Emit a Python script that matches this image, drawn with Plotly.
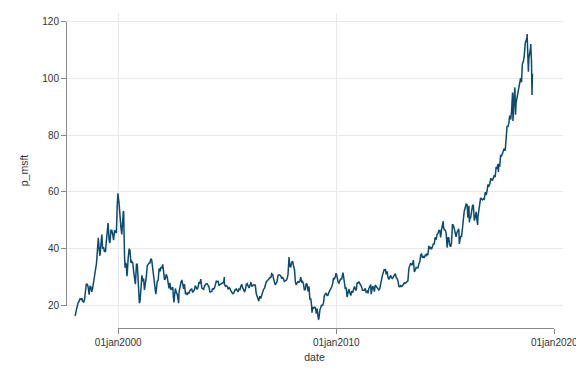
import pandas as pd
import plotly.graph_objects as go

# ---- data: MSFT closing price, semi-monthly readings (1st and 15th of each month) ----
p_1998 = [16.4, 16.8, 18.7, 20.0, 21.1, 21.3, 22.5, 22.0, 22.6, 21.5, 21.2, 22.0,
          27.0, 27.5, 27.5, 26.5, 23.8, 26.7, 26.5, 24.8, 26.5, 28.7, 30.5, 31.7]
p_1999 = [34.7, 38.7, 43.8, 40.0, 37.5, 41.0, 45.0, 40.0, 40.5, 39.0, 39.0, 42.5,
          45.0, 49.0, 43.0, 42.0, 46.5, 46.5, 45.0, 43.0, 46.5, 46.0, 45.5, 55.0]
p_2000 = [58.4, 56.0, 49.0, 47.5, 45.0, 48.5, 53.0, 37.5, 35.0, 34.5, 31.5, 36.5,
          40.0, 39.5, 35.0, 35.5, 35.0, 32.0, 30.0, 27.5, 34.5, 34.5, 28.5, 25.0]
p_2001 = [21.7, 26.5, 30.6, 28.5, 29.5, 25.5, 27.3, 30.0, 34.0, 34.5, 35.0, 35.0,
          36.5, 36.0, 33.0, 31.0, 28.5, 26.3, 25.6, 28.5, 29.0, 33.0, 32.0, 33.5]
p_2002 = [33.1, 34.5, 31.5, 29.0, 29.5, 31.0, 30.0, 28.5, 26.0, 28.0, 25.5, 26.0,
          26.5, 22.5, 23.5, 26.0, 24.5, 24.0, 22.0, 24.5, 27.0, 28.0, 29.0, 27.0]
p_2003 = [25.9, 27.5, 24.0, 24.5, 23.7, 24.5, 24.4, 25.2, 25.6, 25.9, 24.6, 24.9,
          25.6, 27.0, 26.4, 25.7, 26.5, 28.3, 27.8, 29.3, 26.1, 25.8, 25.7, 26.8]
p_2004 = [27.4, 27.7, 27.6, 26.8, 26.5, 24.8, 25.0, 24.9, 26.1, 25.8, 26.2, 27.4,
          28.6, 28.4, 28.5, 27.1, 27.3, 27.4, 27.7, 28.0, 28.2, 27.4, 26.8, 27.0]
p_2005 = [26.7, 25.7, 26.3, 26.0, 25.2, 24.8, 24.2, 24.3, 25.3, 25.6, 25.8, 25.3,
          24.8, 25.8, 25.6, 26.8, 27.4, 26.1, 25.7, 24.7, 25.7, 27.4, 27.7, 26.9]
p_2006 = [26.2, 27.0, 28.2, 26.9, 26.9, 27.3, 27.2, 27.2, 24.2, 23.0, 22.6, 22.0,
          23.3, 22.5, 24.0, 24.7, 25.7, 26.0, 27.4, 28.3, 28.7, 29.3, 29.4, 29.9]
p_2007 = [29.9, 31.2, 30.9, 29.4, 28.1, 27.3, 27.9, 28.4, 30.6, 30.8, 30.7, 30.5,
          29.5, 30.0, 29.3, 28.5, 28.7, 28.9, 29.5, 30.9, 36.8, 33.8, 33.6, 35.2]
p_2008 = [35.6, 34.0, 32.6, 28.4, 27.2, 27.9, 28.4, 28.2, 28.5, 30.0, 28.3, 28.5,
          27.5, 25.4, 25.7, 27.8, 27.3, 25.0, 26.7, 22.3, 22.3, 19.6, 19.4, 19.0]
p_2009 = [19.4, 19.3, 17.1, 18.9, 16.2, 15.3, 18.4, 19.6, 20.3, 19.9, 20.9, 23.5,
          23.8, 24.4, 23.5, 23.6, 24.7, 25.2, 25.7, 26.5, 27.7, 29.5, 29.4, 30.0]
p_2010 = [30.5, 30.1, 28.2, 27.9, 28.7, 29.3, 29.3, 30.9, 30.5, 28.9, 25.8, 26.4,
          23.0, 24.4, 25.8, 24.5, 23.5, 25.1, 24.5, 25.5, 26.7, 25.8, 25.3, 27.9]
p_2011 = [27.9, 28.3, 27.7, 27.1, 26.6, 25.4, 25.4, 25.4, 26.0, 24.7, 25.0, 24.3,
          26.0, 26.8, 27.4, 25.5, 26.6, 26.5, 24.9, 27.2, 26.6, 26.1, 25.6, 25.5]
p_2012 = [26.0, 28.3, 29.5, 30.8, 31.7, 32.8, 32.3, 31.0, 32.0, 30.0, 29.2, 30.0,
          30.6, 29.7, 29.5, 30.2, 30.8, 31.2, 29.8, 29.5, 28.5, 26.7, 26.6, 27.0]
p_2013 = [26.7, 27.3, 27.5, 28.0, 27.8, 28.1, 28.6, 28.7, 33.1, 34.3, 34.9, 34.4,
          34.5, 36.0, 31.8, 32.4, 33.4, 33.3, 33.3, 34.6, 35.4, 37.8, 38.1, 36.8]
p_2014 = [37.4, 36.8, 37.8, 37.6, 38.3, 37.7, 41.0, 40.0, 40.4, 39.8, 40.9, 41.7,
          41.7, 44.0, 43.2, 44.9, 45.4, 46.4, 46.4, 44.0, 47.0, 49.6, 47.8, 46.7]
p_2015 = [46.5, 45.5, 40.4, 43.9, 43.9, 41.4, 40.7, 42.0, 48.6, 48.3, 47.0, 45.5,
          44.2, 45.7, 46.7, 47.0, 43.5, 44.3, 44.3, 47.0, 52.6, 53.3, 54.4, 55.7]
p_2016 = [55.5, 50.9, 55.1, 50.5, 50.9, 53.5, 55.2, 55.4, 49.9, 51.0, 53.0, 50.0,
          51.2, 53.7, 56.7, 57.9, 57.5, 57.2, 57.6, 57.4, 59.9, 58.9, 60.3, 62.6]
p_2017 = [62.1, 62.7, 64.6, 64.5, 64.0, 64.7, 65.9, 65.2, 68.5, 68.4, 69.8, 69.9,
          68.9, 72.8, 72.7, 73.6, 74.8, 75.3, 74.5, 77.6, 83.2, 82.9, 84.2, 86.9]
p_2018 = [85.5, 88.4, 95.0, 92.0, 93.8, 94.2, 91.3, 93.1, 95.0, 97.2, 98.8, 100.1,
          98.6, 105.0, 106.0, 107.7, 112.3, 113.4, 114.4, 106.0, 107.0, 108.3, 110.9, 106.0]

# notable highs / lows
extra_dates = ['1999-12-27', '2000-03-27', '2000-04-24', '2000-05-26', '2000-12-20',
               '2001-09-21', '2002-07-23', '2002-10-09', '2004-11-12', '2006-06-13',
               '2007-11-01', '2008-11-20', '2009-03-09', '2009-12-29', '2010-04-23',
               '2011-08-08', '2012-04-02', '2013-07-18', '2014-11-28', '2015-08-24',
               '2016-02-08', '2016-06-27', '2017-06-09', '2018-02-08', '2018-03-12',
               '2018-03-23', '2018-10-03', '2018-10-24', '2018-12-03', '2018-12-24',
               '2018-12-31']
extra_values = [59.5, 53.3, 33.3, 30.3, 20.8, 24.0, 21.1, 20.8, 30.0, 21.5,
                37.1, 17.5, 15.2, 31.4, 31.6, 24.0, 32.9, 35.4, 49.7, 41.7,
                49.3, 48.4, 67.0, 85.0, 96.8, 87.2, 115.6, 102.3, 112.1, 94.1,
                101.6]

y_ticks = [20, 40, 60, 80, 100, 120]
x_tick_dates = ['2000-01-01', '2010-01-01', '2020-01-01']
x_tick_labels = ['01jan2000', '01jan2010', '01jan2020']
x_grid_dates = ['2000-01-01', '2010-01-01']

# ---- assemble series ----
values = (p_1998 + p_1999 + p_2000 + p_2001 + p_2002 + p_2003 + p_2004 + p_2005 +
          p_2006 + p_2007 + p_2008 + p_2009 + p_2010 + p_2011 + p_2012 + p_2013 +
          p_2014 + p_2015 + p_2016 + p_2017 + p_2018)
dates = pd.date_range('1998-01-01', periods=len(values), freq='SMS')
s = pd.Series(values, index=dates)
s = pd.concat([s, pd.Series(extra_values, index=pd.to_datetime(extra_dates))]).sort_index()

# ---- plot region ranges ----
y_lo, y_hi = 12.08, 123.0
x_lo, x_hi = pd.Timestamp('1997-08-09'), pd.Timestamp('2020-05-26')

def xfrac(d):
    return (pd.Timestamp(d) - x_lo) / (x_hi - x_lo)

def yfrac(v):
    return (v - y_lo) / (y_hi - y_lo)

FONT = "Liberation Sans, Arial, Helvetica, sans-serif"
TXT = "#333333"
AX = "#8a8a8a"
GRID = "#e9e9e9"

x2_end = pd.Timestamp(x_tick_dates[-1]) + pd.Timedelta(hours=2)

fig = go.Figure()
fig.add_trace(go.Scatter(x=s.index, y=s.values, mode='lines',
                         line=dict(color='#0b4b70', width=1.5),
                         showlegend=False, hoverinfo='skip'))
# empty trace to host the Stata-style axes (lines span only first..last tick)
fig.add_trace(go.Scatter(x=[], y=[], xaxis='x2', yaxis='y2', showlegend=False))

fig.update_layout(
    template='none',
    width=576, height=384,
    margin=dict(l=66, r=13, t=13, b=56, pad=0),
    paper_bgcolor='white', plot_bgcolor='rgba(0,0,0,0)',
    font=dict(family=FONT, size=10, color=TXT),
    xaxis=dict(type='date', range=[x_lo, x_hi], domain=[0, 1], automargin=False,
               tickvals=x_grid_dates, showticklabels=False, ticks='',
               showgrid=True, gridcolor=GRID, gridwidth=1, showline=False,
               zeroline=False,
               title=dict(text='date', standoff=25, font=dict(size=10.5, color=TXT))),
    yaxis=dict(range=[y_lo, y_hi], domain=[0, 1], tickvals=y_ticks, automargin=False,
               showticklabels=False, ticks='', showgrid=True, gridcolor=GRID,
               gridwidth=1, showline=False, zeroline=False,
               title=dict(text='p_msft', standoff=34, font=dict(size=10.5, color=TXT))),
    xaxis2=dict(type='date', range=[x_tick_dates[0], x2_end],
                domain=[xfrac(x_tick_dates[0]), xfrac(x2_end)], automargin=False,
                anchor='free', position=0, showline=True, linecolor=AX, linewidth=1,
                ticks='outside', ticklen=5, tickcolor=AX, tickwidth=1,
                ticklabeloverflow='allow',
                tickvals=x_tick_dates, ticktext=x_tick_labels, showgrid=False,
                zeroline=False, tickfont=dict(size=10, color=TXT)),
    yaxis2=dict(range=[y_ticks[0], y_ticks[-1]], automargin=False,
                domain=[yfrac(y_ticks[0]), yfrac(y_ticks[-1])],
                anchor='free', position=0, showline=True, linecolor=AX, linewidth=1,
                ticks='outside', ticklen=5, tickcolor=AX, tickwidth=1,
                ticklabeloverflow='allow',
                tickvals=y_ticks, showgrid=False, zeroline=False,
                tickfont=dict(size=10, color=TXT)),
)

fig.write_html("out.html", config={'displayModeBar': False},
               post_script="document.body.style.margin='0';document.body.style.padding='0';")
